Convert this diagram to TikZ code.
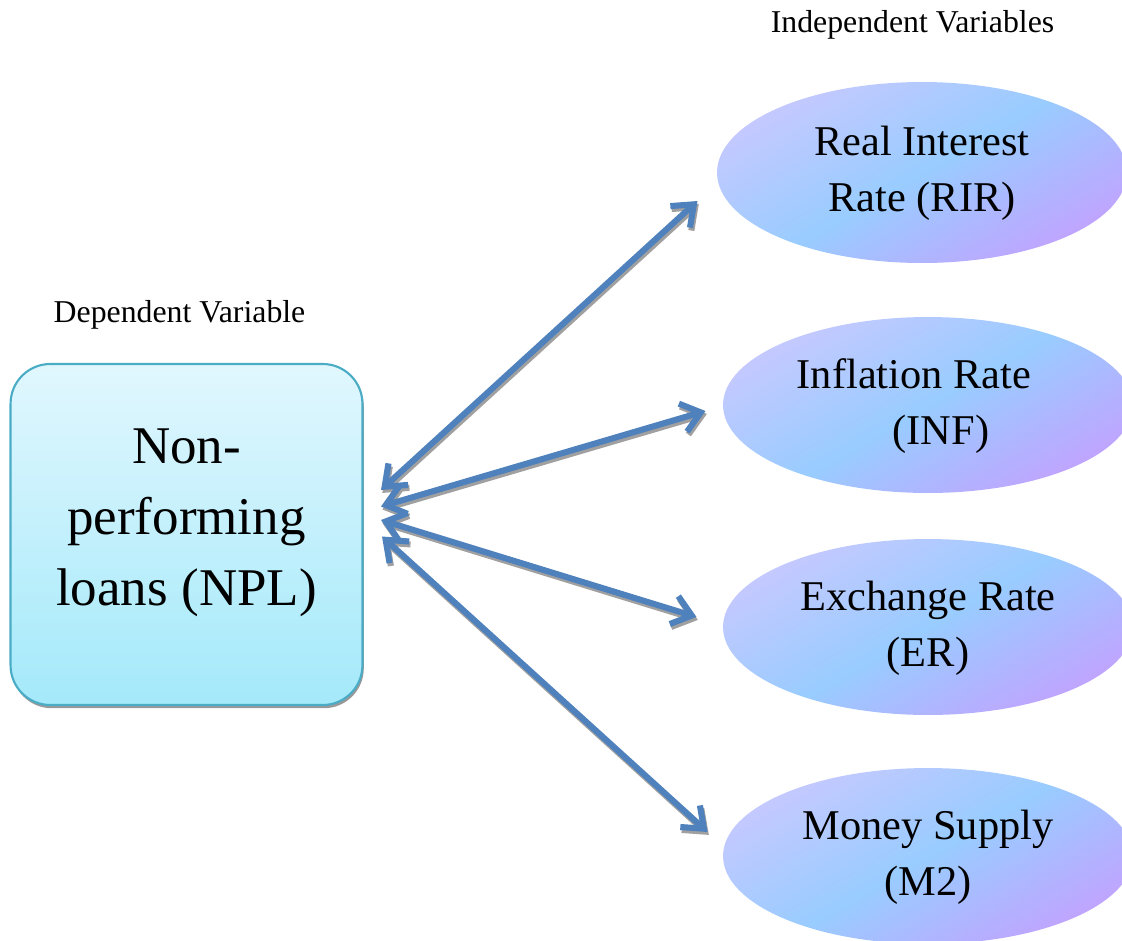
\documentclass[tikz,border=0pt]{standalone}
\usepackage{fontspec}
\setmainfont{Liberation Serif}
\usetikzlibrary{arrows.meta,shapes.geometric,shadows,calc}
\definecolor{nplborder}{RGB}{75,172,198}
\definecolor{npltop}{RGB}{225,247,254}
\definecolor{nplbottom}{RGB}{164,233,250}
\definecolor{varleft}{RGB}{197,201,255}
\definecolor{varmid}{RGB}{153,204,255}
\definecolor{varright}{RGB}{192,164,255}
\definecolor{linkblue}{RGB}{79,129,189}
\definecolor{linkshadow}{RGB}{160,160,160}

\tikzset{
  nplbox/.style={draw=nplborder, line width=0.8pt, rounded corners=15pt,
    top color=npltop, bottom color=nplbottom,
    minimum width=132.8pt, minimum height=128.7pt, inner sep=0pt,
    drop shadow={shadow xshift=0.5pt, shadow yshift=-1.2pt, fill=black!40, opacity=1},
    font=\fontsize{20}{26.8}\selectfont},
  varnode/.style={ellipse, minimum width=154.7pt, minimum height=66.4pt, inner sep=0pt,
    top color=varleft, bottom color=varright, middle color=varmid, shading angle=30,
    font=\fontsize{16}{21.2}\selectfont},
  varlabel/.style={anchor=base, font=\fontsize{12}{14}\selectfont},
  barb/.tip={Straight Barb[length=7pt,width=11pt]},
  link/.style={draw=linkblue, line width=2.3pt, barb-barb},
  linkshade/.style={link, draw=linkshadow, transform canvas={xshift=0.5pt,yshift=-1.1pt}}
}

\begin{document}
\begin{tikzpicture}[x=0.3774pt,y=-0.3774pt]
  \useasboundingbox (0,0) rectangle (1122,940);

  % dependent variable
  \node[varlabel] (deplabel) at (179.5,322) {Dependent Variable};
  \node[nplbox] (npl) at (186.5,534.5) {%
    \begin{tabular}{@{}c@{}}
    Non-\\
    performing\\
    loans (NPL)\rule[-19.1pt]{0pt}{0pt}
    \end{tabular}};

  % independent variables
  \node[varlabel] (indeplabel) at (912.5,32) {Independent Variables};
  \node[varnode, minimum height=68.3pt] (rir) at (922,172.5) {%
    \begin{tabular}{@{}c@{}}Real Interest\\Rate (RIR)\end{tabular}};
  \node[varnode] (inf) at (928,405) {%
    \begin{tabular}{@{}l@{}}Inflation Rate\hspace*{10.6pt}\\\hspace*{36.2pt}(INF)\end{tabular}};
  \node[varnode] (er) at (928,627) {%
    \begin{tabular}{@{}c@{}}Exchange Rate\\(ER)\end{tabular}};
  \node[varnode] (m2) at (928,856) {%
    \begin{tabular}{@{}c@{}}Money Supply\\(M2)\end{tabular}};

  % arrow ends
  \coordinate (npl-rir) at ($(npl.east)+(17.5,-44.5)$);
  \coordinate (npl-inf) at ($(npl.east)+(17.5,-28)$);
  \coordinate (npl-er)  at ($(npl.east)+(17.5,-14.5)$);
  \coordinate (npl-m2)  at ($(npl.east)+(18.5,2)$);
  \coordinate (rir-npl) at ($(rir.west)+(-19,28.5)$);
  \coordinate (inf-npl) at ($(inf.west)+(-17,6)$);
  \coordinate (er-npl)  at ($(er.west)+(-26,-10)$);
  \coordinate (m2-npl)  at ($(m2.west)+(-15,-24)$);

  \foreach \v in {rir,inf,er,m2}{
    \draw[linkshade] (npl-\v) -- (\v-npl);
    \draw[link] (npl-\v) -- (\v-npl);
  }
\end{tikzpicture}
\end{document}
